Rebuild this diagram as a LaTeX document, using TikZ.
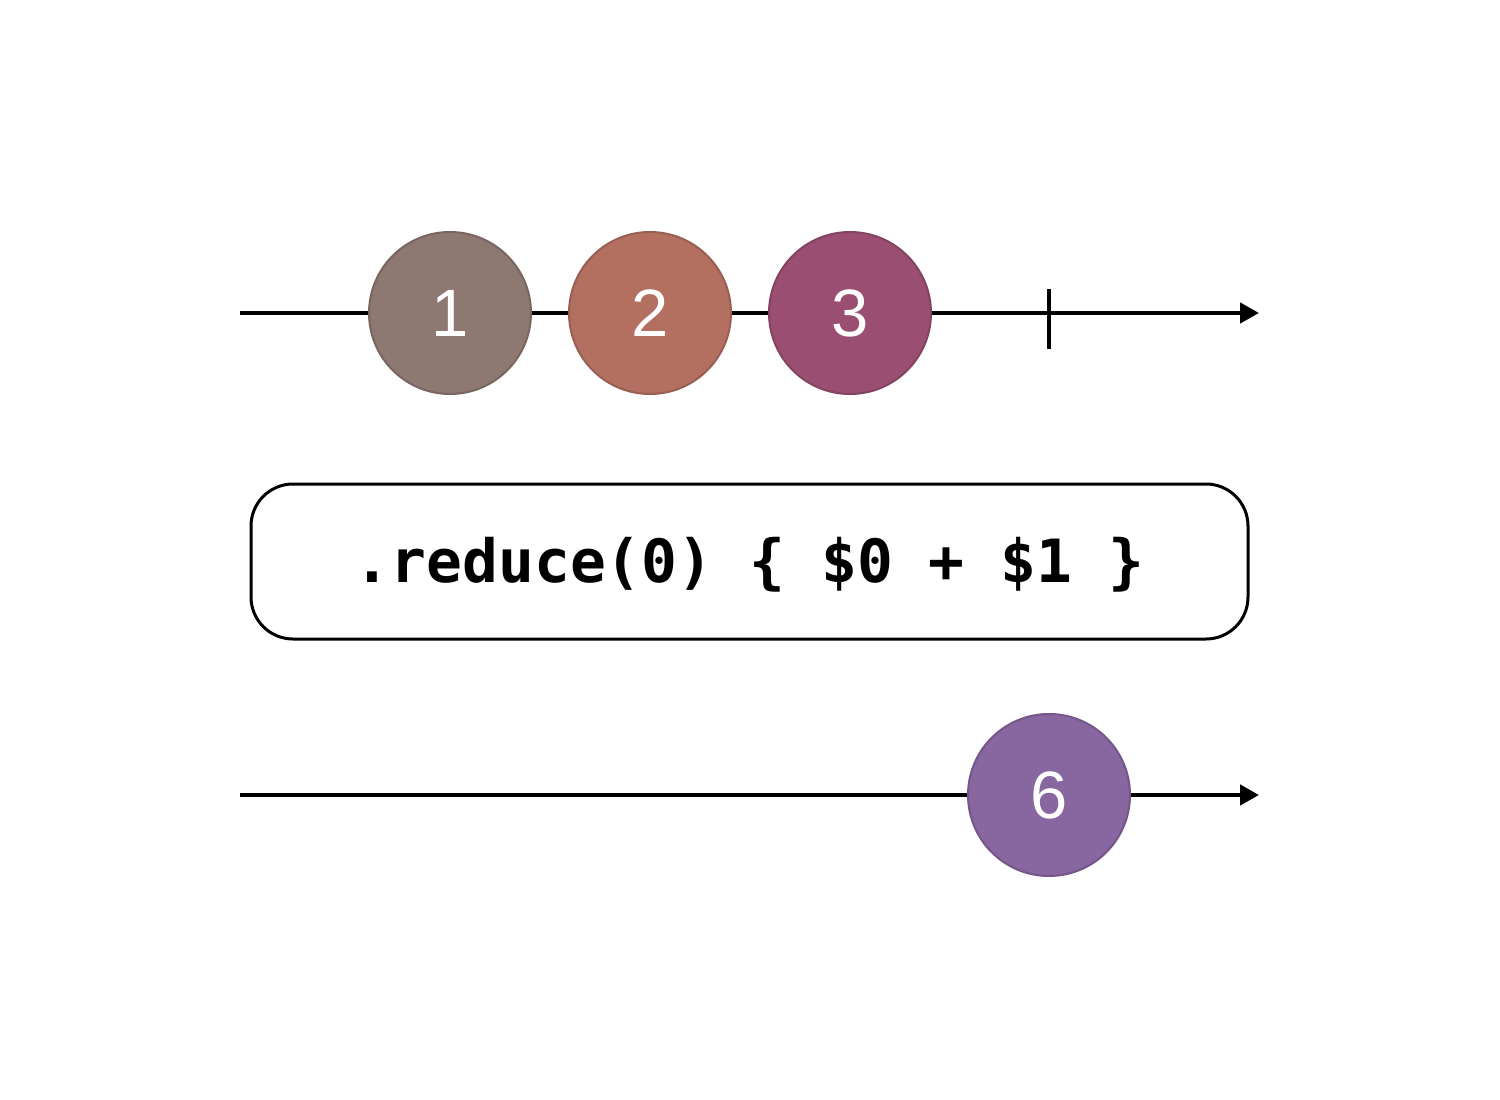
\documentclass[tikz,border=0pt]{standalone}
\usepackage{fontspec}
\setsansfont{Liberation Sans}
\setmonofont{DejaVu Sans Mono}
\usetikzlibrary{arrows.meta}
\definecolor{cone}{HTML}{8E7872}
\definecolor{ctwo}{HTML}{B37060}
\definecolor{cthree}{HTML}{9A4F72}
\definecolor{csix}{HTML}{8866A0}
\tikzset{
  timeline/.style={line width=4.5pt, -{Triangle[length=19pt,width=20pt]}},
  marble/.style={circle, minimum size=162pt, inner sep=0pt, line width=2pt,
    font=\sffamily\fontsize{67pt}{67pt}\selectfont, text=white},
  opbox/.style={draw, rounded corners=42pt, line width=3pt, minimum width=997pt,
    minimum height=155pt, font=\ttfamily\bfseries\fontsize{59.6pt}{59.6pt}\selectfont},
}
\begin{document}
\begin{tikzpicture}[x=1pt,y=-1pt]
\useasboundingbox (0,0) rectangle (1500,1100);
% top timeline
\coordinate (s1) at (240,313);
\coordinate (e1) at (1259,313);
\coordinate (t1) at (1049,289);
\coordinate (t2) at (1049,349);
\draw[timeline] (s1) -- (e1);
\draw[line width=4.5pt] (t1) -- (t2);
\node[marble, fill=cone, draw=cone!85!black] (m1) at (450,313) {1};
\node[marble, fill=ctwo, draw=ctwo!85!black] (m2) at (650,313) {2};
\node[marble, fill=cthree, draw=cthree!85!black] (m3) at (850,313) {3};
% operator
\node[opbox] (op) at (749.5,561.5) {\raisebox{-21pt}[0pt][0pt]{.reduce(0) \{ \$0 + \$1 \}}};
% bottom timeline
\coordinate (s2) at (240,795);
\coordinate (e2) at (1259,795);
\draw[timeline] (s2) -- (e2);
\node[marble, fill=csix, draw=csix!85!black] (m6) at (1049,795) {6};
\end{tikzpicture}
\end{document}
